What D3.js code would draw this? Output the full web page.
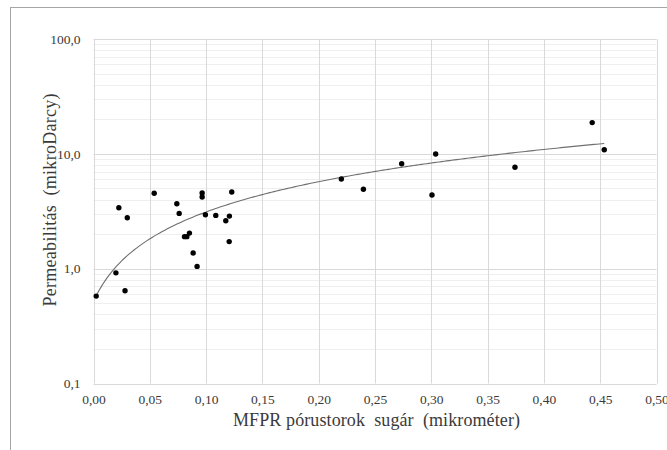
<!DOCTYPE html>
<html>
<head>
<meta charset="utf-8">
<script src="https://cdn.jsdelivr.net/npm/d3@7"></script>
<style>
  html, body { margin: 0; padding: 0; background: #fff; }
  svg { display: block; }
  svg text { font-family: "Liberation Serif", "Times New Roman", serif; }
</style>
</head>
<body>
<svg id="chart" width="667" height="450"></svg>
<script>
// Pore-throat radius (µm) and permeability (microDarcy) for each sample
const radius = [
  0.0024, 0.0199, 0.0280, 0.0225, 0.0300, 0.0539, 0.0740, 0.0761,
  0.0965, 0.0965, 0.0994, 0.1086, 0.1175, 0.1207, 0.1228, 0.0808,
  0.0829, 0.0852, 0.0885, 0.0920, 0.1205, 0.2201, 0.2397, 0.2737,
  0.3039, 0.3006, 0.3743, 0.4429, 0.4536
];
const permeability = [
  0.577, 0.92, 0.642, 3.39, 2.78, 4.53, 3.68, 3.03,
  4.56, 4.21, 2.95, 2.91, 2.61, 2.87, 4.65, 1.90,
  1.90, 2.04, 1.37, 1.047, 1.72, 6.03, 4.91, 8.20,
  9.96, 4.38, 7.63, 18.7, 10.86
];
const xTicks = [0, 0.05, 0.10, 0.15, 0.20, 0.25, 0.30, 0.35, 0.40, 0.45, 0.50];
const yTicks = [0.1, 1, 10, 100];
const xTitle = "MFPR pórustorok  sugár  (mikrométer)";
const yTitle = "Permeabilitás  (mikroDarcy)";

const svg = d3.select("#chart");
const plot = { left: 93.5, right: 656.5, top: 39, bottom: 383.5 };
const serif = '"Liberation Serif", "Times New Roman", serif';

const x = d3.scaleLinear().domain([0, 0.5]).range([plot.left, plot.right]);
const y = d3.scaleLog().domain([0.1, 100]).range([plot.bottom, plot.top]);

const fmt2 = d => d3.format(".2f")(d).replace(".", ",");
const fmt1 = d => d3.format(".1f")(d).replace(".", ",");

// Outer chart frame
svg.append("rect")
  .attr("x", 10.5).attr("y", 7.5)
  .attr("width", 680).attr("height", 460)
  .attr("fill", "none").attr("stroke", "#a6a6a6").attr("stroke-width", 1);

// Minor horizontal gridlines (2..9 within each decade)
const minor = [];
[0.1, 1, 10].forEach(d => { for (let k = 2; k <= 9; k++) minor.push(d * k); });
svg.append("g").selectAll("line").data(minor).join("line")
  .attr("x1", plot.left).attr("x2", plot.right)
  .attr("y1", d => Math.round(y(d)) + 0.5).attr("y2", d => Math.round(y(d)) + 0.5)
  .attr("stroke", "#efefef").attr("stroke-width", 1);

// Major gridlines
svg.append("g").selectAll("line").data(yTicks).join("line")
  .attr("x1", plot.left).attr("x2", plot.right)
  .attr("y1", d => Math.round(y(d)) + 0.5).attr("y2", d => Math.round(y(d)) + 0.5)
  .attr("stroke", "#d9d9d9").attr("stroke-width", 1);
svg.append("g").selectAll("line").data(xTicks).join("line")
  .attr("x1", d => Math.round(x(d)) + 0.5).attr("x2", d => Math.round(x(d)) + 0.5)
  .attr("y1", plot.top).attr("y2", plot.bottom)
  .attr("stroke", "#d9d9d9").attr("stroke-width", 1);

// Axes (labels only, the frame lines come from the gridlines)
const xAxis = svg.append("g")
  .attr("transform", `translate(0,${plot.bottom + 3})`)
  .call(d3.axisBottom(x).tickValues(xTicks).tickFormat(fmt2).tickSize(0).tickPadding(8));
const yAxis = svg.append("g")
  .attr("transform", `translate(${plot.left - 13},0)`)
  .call(d3.axisLeft(y).tickValues(yTicks).tickFormat(fmt1).tickSize(0).tickPadding(0));
[xAxis, yAxis].forEach(a => {
  a.attr("font-family", null).attr("font-size", null);
  a.select(".domain").remove();
  a.selectAll("text")
    .style("font-family", serif)
    .style("font-size", "13.5px")
    .attr("fill", "#3a3a3a");
});

// Linear least-squares trendline across the sampled radius range
const n = radius.length;
const mx = d3.mean(radius), my = d3.mean(permeability);
let sxy = 0, sxx = 0;
for (let i = 0; i < n; i++) {
  sxy += (radius[i] - mx) * (permeability[i] - my);
  sxx += (radius[i] - mx) ** 2;
}
const slope = sxy / sxx, intercept = my - slope * mx;
const [x0, x1] = d3.extent(radius);
const trend = d3.range(0, 201).map(i => {
  const r = x0 + (x1 - x0) * i / 200;
  return [r, slope * r + intercept];
});
svg.append("path")
  .datum(trend)
  .attr("d", d3.line().x(d => x(d[0])).y(d => y(d[1])))
  .attr("fill", "none").attr("stroke", "#6f6f6f").attr("stroke-width", 1.1);

// Sample points
svg.append("g").selectAll("circle").data(radius).join("circle")
  .attr("cx", d => x(d))
  .attr("cy", (d, i) => y(permeability[i]))
  .attr("r", 2.7)
  .attr("fill", "#000");

// Axis titles
svg.append("text")
  .attr("x", 376.5).attr("y", 426)
  .attr("text-anchor", "middle")
  .attr("textLength", 287).attr("lengthAdjust", "spacing")
  .style("font-family", serif).style("font-size", "18px")
  .style("white-space", "pre")
  .attr("fill", "#3a3a3a")
  .text(xTitle);
svg.append("text")
  .attr("transform", "translate(56,200) rotate(-90)")
  .attr("text-anchor", "middle")
  .attr("textLength", 213).attr("lengthAdjust", "spacing")
  .style("font-family", serif).style("font-size", "18px")
  .style("white-space", "pre")
  .attr("fill", "#3a3a3a")
  .text(yTitle);
</script>
</body>
</html>
